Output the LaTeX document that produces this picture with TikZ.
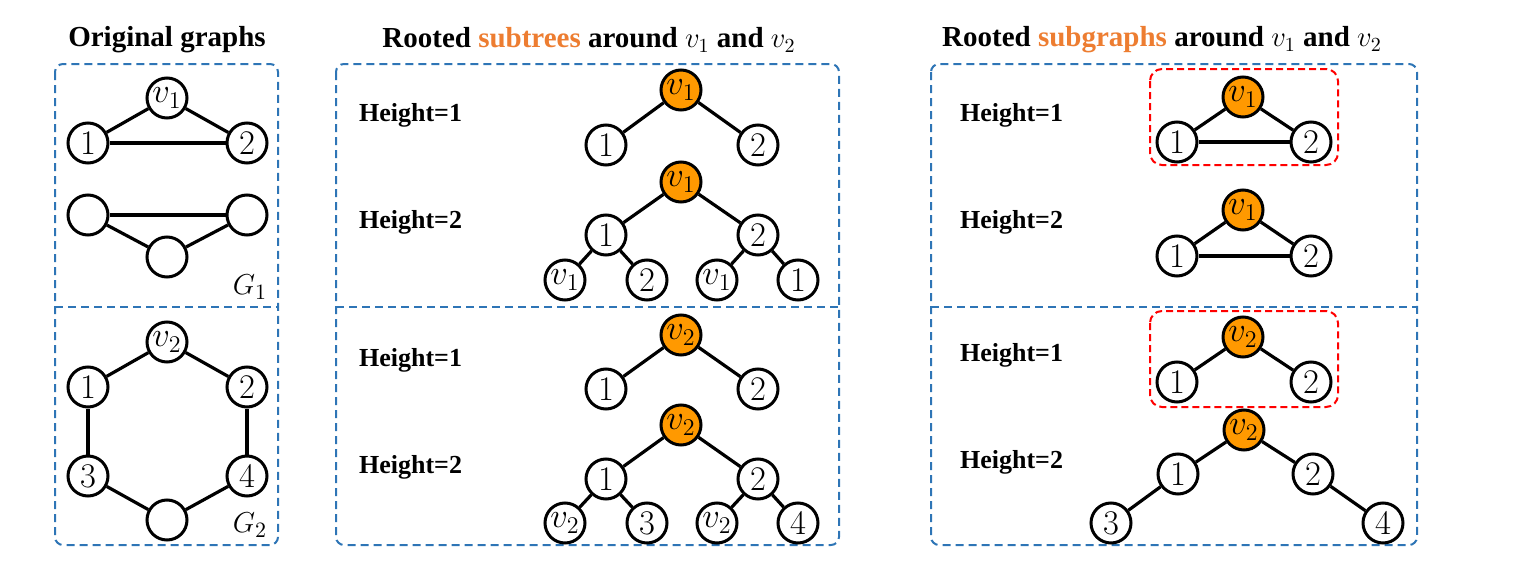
\documentclass[tikz,border=0pt]{standalone}
\usepackage{fontspec}
\setmainfont{Liberation Serif}

\definecolor{boxblue}{RGB}{46,117,182}
\definecolor{rootorange}{RGB}{255,153,0}
\definecolor{titleorange}{RGB}{237,125,49}

\tikzstyle{bigfig}=[x=0.5pt,y=-0.5pt]
\tikzstyle{vtx}=[circle,draw,line width=1.5pt,minimum size=20pt,inner sep=0pt,fill=white,font=\fontsize{17}{17}\selectfont]
\tikzstyle{rootvtx}=[vtx,fill=rootorange]
\tikzstyle{edge}=[line width=1.6pt]
\tikzstyle{panel}=[boxblue,line width=1pt,dash pattern=on 4pt off 2.5pt,rounded corners=4pt]
\tikzstyle{hop}=[red,line width=1pt,dash pattern=on 3.5pt off 2pt,rounded corners=6pt]
\tikzstyle{ttl}=[font=\fontsize{14.5}{14.5}\selectfont\bfseries]
\tikzstyle{hlab}=[anchor=west,font=\fontsize{13}{13}\selectfont\bfseries]

\begin{document}
\begin{tikzpicture}[style=bigfig]
\useasboundingbox (0,0) rectangle (1539,578);

% titles
\node[ttl] (ttlA) at (167,40) {Original graphs};
\node[ttl] (ttlB) at (589,40) {Rooted \textcolor{titleorange}{subtrees} around $v_1$ and $v_2$};
\node[ttl] (ttlC) at (1162,40) {Rooted \textcolor{titleorange}{subgraphs} around $v_1$ and $v_2$};

% panels
\draw[panel] (55,64) rectangle (278,545);
\draw[panel] (55,307) -- (278,307);
\draw[panel] (336,64) rectangle (839,545);
\draw[panel] (336,307) -- (839,307);
\draw[panel] (931,64) rectangle (1417,545);
\draw[panel] (931,307) -- (1417,307);

% G1
\node[vtx] (g1v) at (167,98) {$v_1$};
\node[vtx] (g1a) at (88,143) {$1$};
\node[vtx] (g1b) at (247,143) {$2$};
\draw[edge] (g1v) -- (g1a);
\draw[edge] (g1v) -- (g1b);
\draw[edge] (g1a) -- (g1b);

\node[vtx] (g1x) at (88,215) {};
\node[vtx] (g1y) at (247,215) {};
\node[vtx] (g1z) at (167,257) {};
\draw[edge] (g1x) -- (g1y);
\draw[edge] (g1x) -- (g1z);
\draw[edge] (g1y) -- (g1z);
\node[font=\fontsize{15}{15}\selectfont] (g1lab) at (250,287) {$G_1$};

% G2
\node[vtx] (g2v) at (167,342) {$v_2$};
\node[vtx] (g2a) at (88,387) {$1$};
\node[vtx] (g2b) at (247,387) {$2$};
\node[vtx] (g2c) at (88,476) {$3$};
\node[vtx] (g2d) at (247,476) {$4$};
\node[vtx] (g2e) at (167,520) {};
\draw[edge] (g2v) -- (g2a);
\draw[edge] (g2v) -- (g2b);
\draw[edge] (g2a) -- (g2c);
\draw[edge] (g2b) -- (g2d);
\draw[edge] (g2c) -- (g2e);
\draw[edge] (g2d) -- (g2e);
\node[font=\fontsize{15}{15}\selectfont] (g2lab) at (250,525) {$G_2$};

% subtrees
\node[hlab] (t11h) at (352,115) {Height=1};
\node[hlab] (t12h) at (352,222) {Height=2};
\node[hlab] (t21h) at (352,360) {Height=1};
\node[hlab] (t22h) at (352,467) {Height=2};

\node[rootvtx] (t11r) at (681,90) {$v_1$};
\node[vtx] (t11a) at (606,145) {$1$};
\node[vtx] (t11b) at (758,145) {$2$};
\draw[edge] (t11r) -- (t11a);
\draw[edge] (t11r) -- (t11b);

\node[rootvtx] (t12r) at (681,182) {$v_1$};
\node[vtx] (t12a) at (606,235) {$1$};
\node[vtx] (t12b) at (758,235) {$2$};
\node[vtx] (t12c) at (565,280) {$v_1$};
\node[vtx] (t12d) at (647,280) {$2$};
\node[vtx] (t12e) at (717,280) {$v_1$};
\node[vtx] (t12f) at (798,280) {$1$};
\draw[edge] (t12r) -- (t12a);
\draw[edge] (t12r) -- (t12b);
\draw[edge] (t12a) -- (t12c);
\draw[edge] (t12a) -- (t12d);
\draw[edge] (t12b) -- (t12e);
\draw[edge] (t12b) -- (t12f);

\node[rootvtx] (t21r) at (681,335) {$v_2$};
\node[vtx] (t21a) at (606,389) {$1$};
\node[vtx] (t21b) at (758,389) {$2$};
\draw[edge] (t21r) -- (t21a);
\draw[edge] (t21r) -- (t21b);

\node[rootvtx] (t22r) at (681,425) {$v_2$};
\node[vtx] (t22a) at (606,479) {$1$};
\node[vtx] (t22b) at (758,479) {$2$};
\node[vtx] (t22c) at (565,523) {$v_2$};
\node[vtx] (t22d) at (647,523) {$3$};
\node[vtx] (t22e) at (717,523) {$v_2$};
\node[vtx] (t22f) at (798,523) {$4$};
\draw[edge] (t22r) -- (t22a);
\draw[edge] (t22r) -- (t22b);
\draw[edge] (t22a) -- (t22c);
\draw[edge] (t22a) -- (t22d);
\draw[edge] (t22b) -- (t22e);
\draw[edge] (t22b) -- (t22f);

% subgraphs
\node[hlab] (s11h) at (953,115) {Height=1};
\node[hlab] (s12h) at (953,222) {Height=2};
\node[hlab] (s21h) at (953,355) {Height=1};
\node[hlab] (s22h) at (953,462) {Height=2};

\draw[hop] (1150,69) rectangle (1338,165);
\node[rootvtx] (s11r) at (1243,97) {$v_1$};
\node[vtx] (s11a) at (1177,142) {$1$};
\node[vtx] (s11b) at (1311,142) {$2$};
\draw[edge] (s11r) -- (s11a);
\draw[edge] (s11r) -- (s11b);
\draw[edge] (s11a) -- (s11b);

\node[rootvtx] (s12r) at (1243,210) {$v_1$};
\node[vtx] (s12a) at (1177,256) {$1$};
\node[vtx] (s12b) at (1311,256) {$2$};
\draw[edge] (s12r) -- (s12a);
\draw[edge] (s12r) -- (s12b);
\draw[edge] (s12a) -- (s12b);

\draw[hop] (1150,311) rectangle (1338,407);
\node[rootvtx] (s21r) at (1243,337) {$v_2$};
\node[vtx] (s21a) at (1177,382) {$1$};
\node[vtx] (s21b) at (1311,382) {$2$};
\draw[edge] (s21r) -- (s21a);
\draw[edge] (s21r) -- (s21b);

\node[rootvtx] (s22r) at (1244,430) {$v_2$};
\node[vtx] (s22a) at (1178,474) {$1$};
\node[vtx] (s22b) at (1313,474) {$2$};
\node[vtx] (s22c) at (1111,523) {$3$};
\node[vtx] (s22d) at (1383,523) {$4$};
\draw[edge] (s22r) -- (s22a);
\draw[edge] (s22r) -- (s22b);
\draw[edge] (s22a) -- (s22c);
\draw[edge] (s22b) -- (s22d);
\end{tikzpicture}
\end{document}
